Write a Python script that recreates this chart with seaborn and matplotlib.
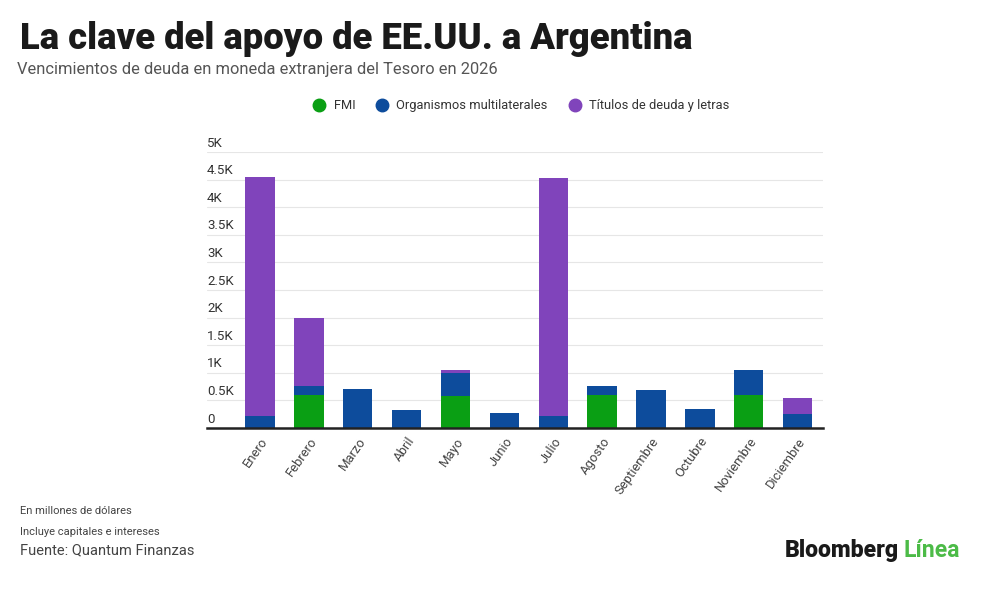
import numpy as np
import pandas as pd
import seaborn as sns
import matplotlib.pyplot as plt
from matplotlib.transforms import blended_transform_factory

# Data (millones de USD)
meses = ["Enero", "Febrero", "Marzo", "Abril", "Mayo", "Junio", "Julio",
         "Agosto", "Septiembre", "Octubre", "Noviembre", "Diciembre"]
fmi = [0, 593, 0, 0, 575, 0, 0, 593, 0, 0, 593, 0]
organismos = [218, 169, 702, 327, 425, 267, 212, 169, 684, 352, 454, 249]
titulos = [4332, 1223, 0, 0, 47, 0, 4318, 0, 0, 0, 0, 303]

series_names = ["FMI", "Organismos multilaterales", "Títulos de deuda y letras"]
colors = ["#0a9f14", "#0d4c9c", "#8044bb"]
yticks = [0, 500, 1000, 1500, 2000, 2500, 3000, 3500, 4000, 4500, 5000]
ytick_labels = ["0", "0.5K", "1K", "1.5K", "2K", "2.5K", "3K", "3.5K", "4K", "4.5K", "5K"]

df = pd.DataFrame({"mes": meses, "fmi": fmi, "org": organismos, "tit": titulos})
df["lvl1"] = df["fmi"]
df["lvl2"] = df["fmi"] + df["org"]
df["lvl3"] = df["lvl2"] + df["tit"]

sns.set_style("white")
plt.rcParams["font.family"] = ["Roboto", "DejaVu Sans"]

fig = plt.figure(figsize=(10, 6.02), dpi=100)
ax = fig.add_axes([0.207, 0.289, 0.616, 0.4585])

# stacked bars: draw cumulative totals, top layer first
for col, c in zip(["lvl3", "lvl2", "lvl1"], [colors[2], colors[1], colors[0]]):
    sns.barplot(data=df, x="mes", y=col, color=c, width=0.6, ax=ax,
                saturation=1, linewidth=0, zorder=3)

ax.set_xlim(-1.085, 11.52)
ax.set_ylim(0, 5000)
ax.set_xlabel("")
ax.set_ylabel("")
for s in ["top", "right", "left"]:
    ax.spines[s].set_visible(False)
ax.spines["bottom"].set_color("#222222")
ax.spines["bottom"].set_linewidth(1.8)
ax.spines["bottom"].set_zorder(5)

ax.set_yticks(yticks)
ax.set_yticklabels([])
ax.tick_params(axis="y", length=0)
ax.yaxis.grid(True, color="#e6e6e6", linewidth=0.8, zorder=0)
ax.set_axisbelow(True)

trans = blended_transform_factory(ax.transAxes, ax.transData)
for v, lab in zip(yticks, ytick_labels):
    ax.text(0.0, v + 45, lab, transform=trans, ha="left", va="bottom",
            fontsize=9.5, color="#333333")

ax.tick_params(axis="x", length=0, pad=5)
ax.set_xticks(range(len(meses)))
ax.set_xticklabels(meses, rotation=55, ha="right", rotation_mode="anchor",
                   fontsize=9.4, color="#444444")

# Legend
handles = [plt.Line2D([], [], marker="o", linestyle="", markersize=9,
                      markerfacecolor=c, markeredgecolor=c) for c in colors]
fig.legend(handles, series_names, loc="center", bbox_to_anchor=(0.518, 0.824),
           ncol=3, frameon=False, fontsize=9.3, handletextpad=0.1,
           columnspacing=1.1, labelcolor="#333333")

# Titles
fig.text(0.02, 0.935, "La clave del apoyo de EE.UU. a Argentina", fontsize=26.2,
         fontweight="black", color="#1a1a1a", va="center", ha="left")
fig.text(0.017, 0.885, "Vencimientos de deuda en moneda extranjera del Tesoro en 2026",
         fontsize=11.9, color="#555555", va="center", ha="left")

# Footer
fig.text(0.02, 0.151, "En millones de dólares", fontsize=8, color="#444444", va="center")
fig.text(0.02, 0.116, "Incluye capitales e intereses", fontsize=8, color="#444444", va="center")
fig.text(0.02, 0.085, "Fuente: Quantum Finanzas", fontsize=10.5, color="#444444", va="center")

t1 = fig.text(0.785, 0.085, "Bloomberg", fontsize=16.6, fontweight="black",
              color="#1a1a1a", va="center", ha="left")
fig.canvas.draw()
bb = t1.get_window_extent()
x2 = bb.x1 / fig.bbox.width + 0.004
fig.text(x2, 0.085, "Línea", fontsize=16.6, fontweight="bold",
         color="#4cbb47", va="center", ha="left")

fig.savefig("out.png", dpi=100, facecolor="white")
